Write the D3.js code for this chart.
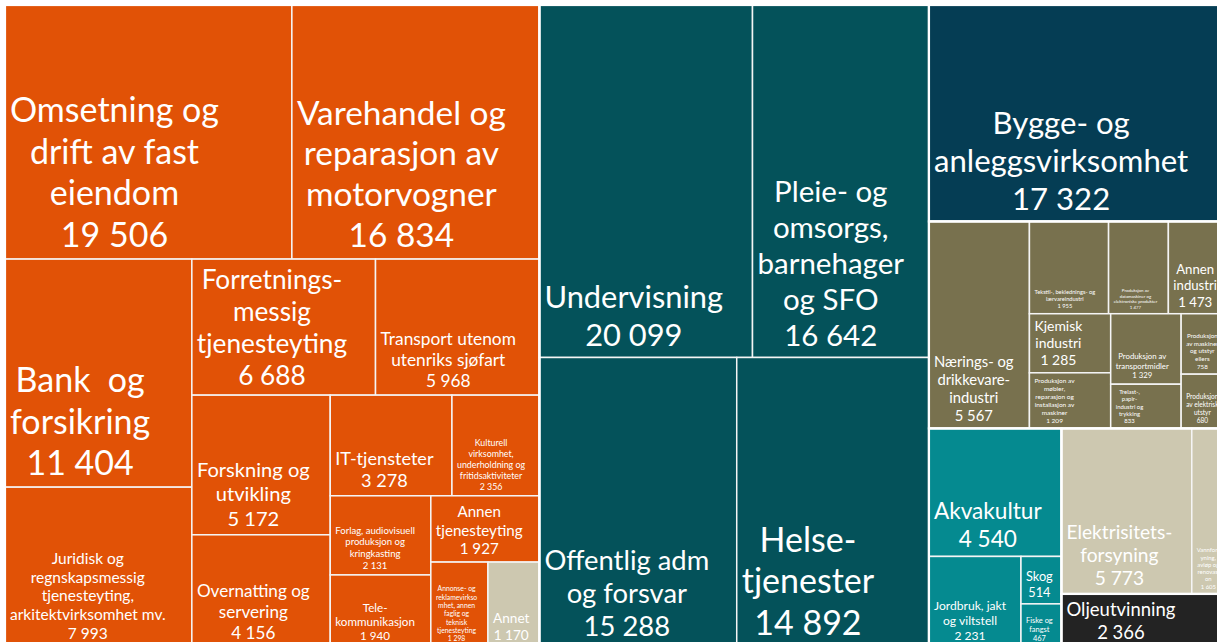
<!DOCTYPE html>
<html>
<head>
<meta charset="utf-8">
<script src="https://cdn.jsdelivr.net/npm/d3@7"></script>
<style>
body { margin: 0; background: #fff; overflow: hidden; }
svg { display: block; }
text { font-family: Lato, Carlito, Calibri, sans-serif; fill: #fff; white-space: pre; }
</style>
</head>
<body>
<svg id="chart" width="1217" height="642"></svg>
<script>
// top level groups, in the order the chart lays them out
var groupNames = ["Privat tjenesteyting", "Offentlig tjenesteyting", "Bygg og anlegg", "Industri", "Primærnæringer", "Kraft og vann", "Olje og gass"];

var privatLabels = ["Omsetning og\ndrift av fast\neiendom", "Varehandel og\nreparasjon av\nmotorvogner", "Bank  og\nforsikring",
    "Juridisk og\nregnskapsmessig\ntjenesteyting,\narkitektvirksomhet mv.", "Forretnings-\nmessig\ntjenesteyting",
    "Transport utenom\nutenriks sjøfart", "Forskning og\nutvikling", "Overnatting og\nservering", "IT-tjensteter",
    "Kulturell\nvirksomhet,\nunderholdning og\nfritidsaktiviteter", "Forlag, audiovisuell\nproduksjon og\nkringkasting",
    "Tele-\nkommunikasjon", "Annen\ntjenesteyting", "Annonse- og\nreklamevirkso\nmhet, annen\nfaglig og\nteknisk\ntjenesteyting", "Annet"];
var privatValues = [19506, 16834, 11404, 7993, 6688, 5968, 5172, 4156, 3278, 2356, 2131, 1940, 1927, 1298, 1170];

var offentligLabels = ["Undervisning", "Pleie- og\nomsorgs,\nbarnehager\nog SFO", "Offentlig adm\nog forsvar", "Helse-\ntjenester"];
var offentligValues = [20099, 16642, 15288, 14892];

var byggLabels = ["Bygge- og\nanleggsvirksomhet"];
var byggValues = [17322];

var industriLabels = ["Nærings- og\ndrikkevare-\nindustri", "Tekstil-, beklednings- og\nlærvareindustri",
    "Produksjon av\ndatamaskiner og\nelektroniske produkter", "Annen\nindustri", "Kjemisk\nindustri",
    "Produksjon av\nmøbler,\nreparasjon og\ninstallasjon av\nmaskiner", "Produksjon av\ntransportmidler",
    "Trelast-,\npapir-\nindustri og\ntrykking", "Produksjon\nav maskiner\nog utstyr\nellers", "Produksjon\nav elektrisk\nutstyr"];
var industriValues = [5567, 1955, 1477, 1473, 1285, 1209, 1329, 833, 758, 680];

var primaerLabels = ["Akvakultur", "Jordbruk, jakt\nog viltstell", "Skog", "Fiske og\nfangst"];
var primaerValues = [4540, 2231, 514, 467];

var kraftLabels = ["Elektrisitets-\nforsyning", "Vannfors\nyning,\navløp og\nrenovasj\non"];
var kraftValues = [5773, 1605];

var oljeLabels = ["Oljeutvinning"];
var oljeValues = [2366];

var groupLabels = [privatLabels, offentligLabels, byggLabels, industriLabels, primaerLabels, kraftLabels, oljeLabels];
var groupValues = [privatValues, offentligValues, byggValues, industriValues, primaerValues, kraftValues, oljeValues];

var groupColors = ["#e15206", "#04525a", "#053d54", "#78714e", "#058a90", "#cdc8b0", "#232323"];
var beige = "#cdc8b0";

var W = 1223, H = 642, M = 5;

var fmt = d3.formatLocale({decimal: ",", thousands: "\u00a0", grouping: [3], currency: ["", ""]}).format(",d");

var data = {
    name: "root",
    children: groupNames.map(function(g, i) {
        return {
            name: g,
            color: groupColors[i],
            children: groupLabels[i].map(function(l, j) { return {name: l, value: groupValues[i][j]}; })
        };
    })
};

var root = d3.hierarchy(data).sum(function(d) { return d.value; });

d3.treemap()
    .tile(d3.treemapSquarify.ratio(1))
    .size([W, H])(root);

var svg = d3.select("#chart");
var g = svg.append("g").attr("transform", "translate(" + M + "," + M + ")");

function cellColor(d) {
    if (d.data.name == "Annet") return beige;
    return d.parent.data.color;
}

g.selectAll("rect.leaf")
    .data(root.leaves())
    .enter().append("rect")
    .attr("class", "leaf")
    .attr("x", function(d) { return d.x0; })
    .attr("y", function(d) { return d.y0; })
    .attr("width", function(d) { return d.x1 - d.x0; })
    .attr("height", function(d) { return d.y1 - d.y0; })
    .attr("fill", cellColor)
    .attr("stroke", "#f5f5f5")
    .attr("stroke-width", 1.5);

g.selectAll("rect.group")
    .data(root.children)
    .enter().append("rect")
    .attr("class", "group")
    .attr("x", function(d) { return d.x0; })
    .attr("y", function(d) { return d.y0; })
    .attr("width", function(d) { return d.x1 - d.x0; })
    .attr("height", function(d) { return d.y1 - d.y0; })
    .attr("fill", "none")
    .attr("stroke", "#fff")
    .attr("stroke-width", 2.2);

// measuring text at 100px
var probe = svg.append("text").attr("font-size", 100).attr("x", -1000).attr("y", -1000);
function textWidth(s) {
    probe.text(s);
    return probe.node().getComputedTextLength();
}

var LH = 1.22;

root.leaves().forEach(function(d) {
    var lines = d.data.name.split("\n").concat([fmt(d.value)]);
    var maxW = d3.max(lines.map(textWidth));
    var w = d.x1 - d.x0, h = d.y1 - d.y0;
    var fs = Math.min(34, (w - 10) * 0.88 / maxW * 100, (h - 8) / (lines.length * LH));
    var blockW = maxW * fs / 100;
    var cx = d.x0 + 5 + blockW / 2;
    var lastY = d.y1 - 4 - 0.24 * fs;
    var t = g.append("text")
        .attr("font-size", fs)
        .attr("text-anchor", "middle");
    lines.forEach(function(line, i) {
        t.append("tspan")
            .attr("x", cx)
            .attr("y", lastY - (lines.length - 1 - i) * LH * fs)
            .text(line);
    });
});

probe.remove();
</script>
</body>
</html>
